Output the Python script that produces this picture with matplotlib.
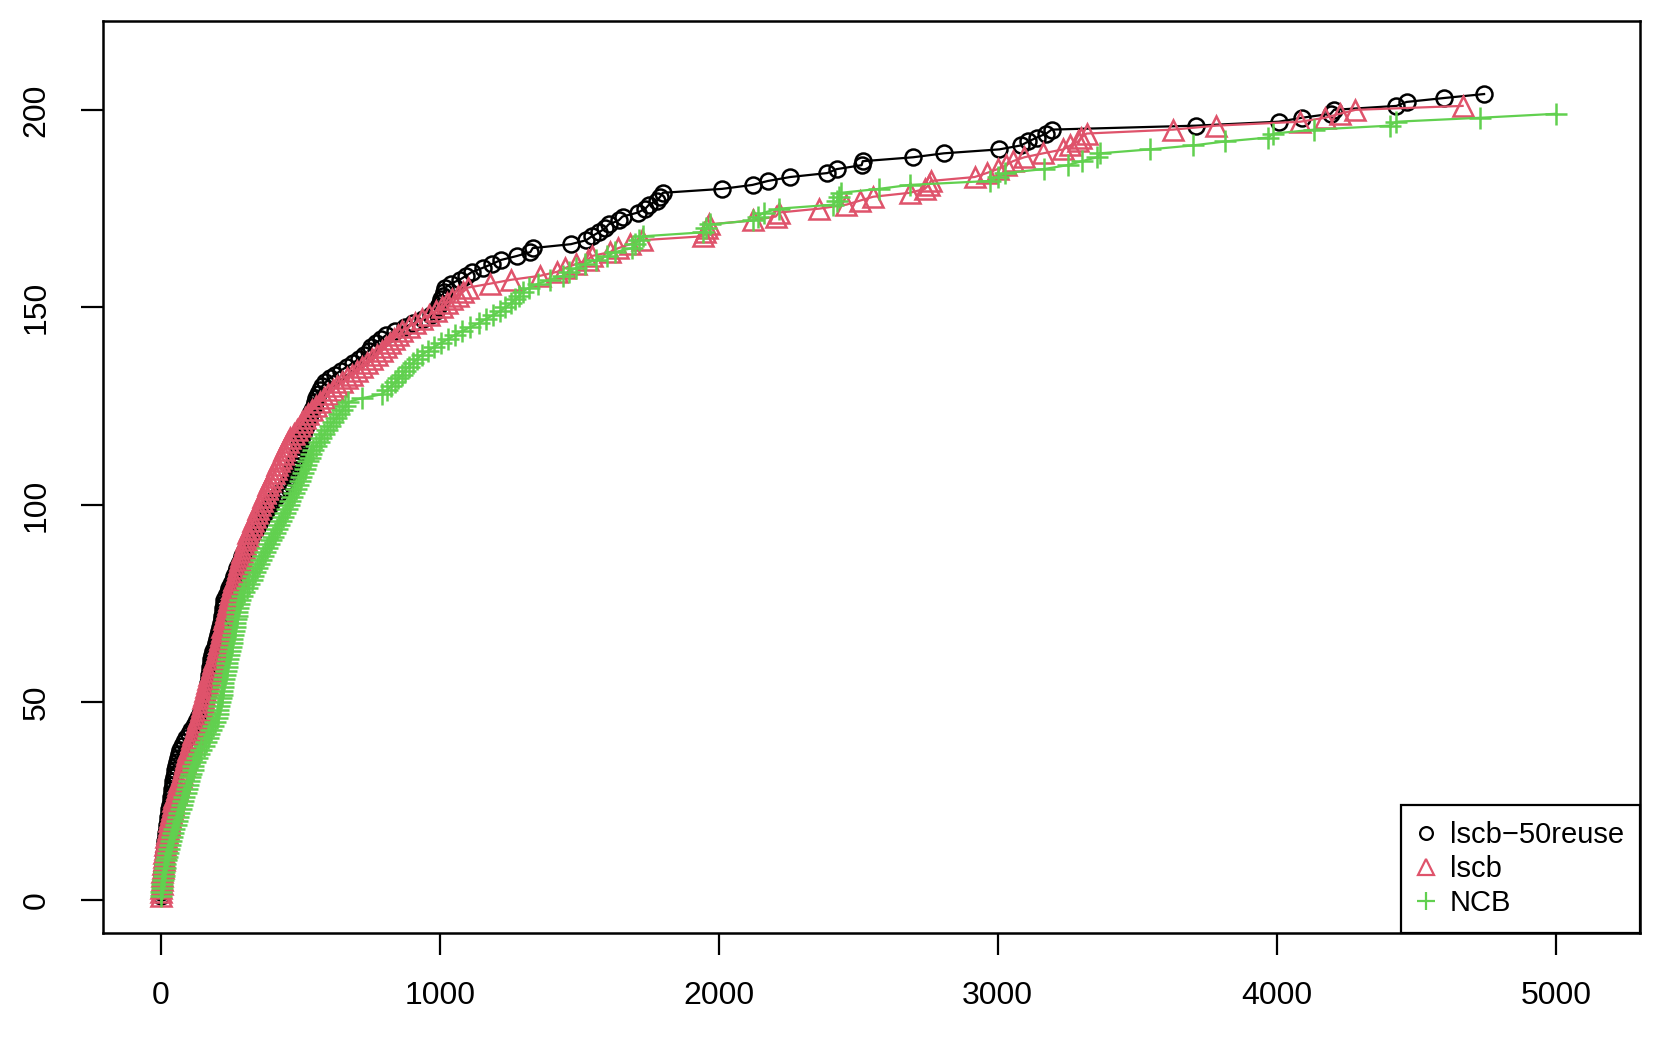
import numpy as np
import matplotlib
matplotlib.use("Agg")
import matplotlib.pyplot as plt
from matplotlib.lines import Line2D

# sorted completion times for each solver (one entry per solved instance)
reuse_times = [
    0, 1, 2, 3, 4, 5, 6, 8, 9, 10, 11, 12, 14, 15, 17, 18, 20, 22, 23, 25,
    27, 29, 31, 33, 35, 37, 39, 41, 43, 45, 47, 50, 52, 55, 58, 61, 64, 68, 75, 85,
    92, 100, 110, 120, 128, 134, 142, 149, 153, 158, 161, 164, 166, 168, 170, 172, 174, 176, 177, 179,
    181, 184, 188, 193, 198, 202, 206, 209, 212, 215, 218, 220, 222, 224, 226, 228, 234, 240, 246, 252,
    258, 264, 270, 275, 280, 286, 292, 298, 305, 312, 318, 325, 332, 340, 348, 356, 364, 372, 380, 390,
    400, 412, 425, 440, 450, 456, 462, 467, 472, 476, 480, 484, 488, 492, 496, 500, 504, 509, 514, 520,
    525, 530, 536, 542, 548, 553, 558, 563, 570, 578, 590, 605, 625, 645, 668, 690, 710, 728, 745, 755,
    770, 790, 808, 840, 875, 905, 940, 968, 985, 995, 1000, 1005, 1010, 1015, 1020, 1040, 1071, 1095, 1116, 1154,
    1188, 1219, 1276, 1325, 1333, 1470, 1525, 1545, 1570, 1593, 1605, 1641, 1655, 1710, 1737, 1750, 1778, 1790, 1799, 2012,
    2121, 2176, 2256, 2389, 2423, 2512, 2516, 2697, 2807, 3006, 3083, 3110, 3140, 3174, 3193, 3710, 4007, 4090, 4193, 4205,
    4429, 4465, 4600, 4743,
]
lscb_times = [
    0, 1, 2, 3, 4, 5, 6, 7, 9, 10, 11, 13, 14, 16, 18, 20, 22, 25, 28, 31,
    34, 37, 40, 43, 45, 49, 53, 58, 62, 66, 71, 75, 79, 82, 86, 90, 95, 99, 104, 108,
    113, 117, 122, 126, 131, 135, 139, 143, 147, 150, 153, 156, 159, 162, 165, 170, 174, 179, 183, 188,
    192, 197, 201, 204, 208, 211, 215, 218, 221, 225, 228, 231, 234, 238, 241, 244, 248, 252, 256, 260,
    264, 268, 272, 276, 280, 284, 288, 293, 297, 302, 306, 311, 314, 320, 326, 332, 338, 344, 350, 356,
    362, 368, 375, 381, 386, 393, 399, 405, 412, 418, 425, 431, 437, 443, 450, 455, 465, 476, 487, 498,
    508, 518, 529, 543, 557, 571, 586, 601, 617, 633, 649, 667, 685, 703, 720, 738, 756, 774, 792, 806,
    820, 835, 850, 864, 888, 911, 935, 960, 985, 1007, 1025, 1043, 1065, 1085, 1100, 1180, 1257, 1360, 1420, 1450,
    1490, 1530, 1545, 1610, 1640, 1682, 1724, 1943, 1950, 1958, 1964, 2121, 2204, 2215, 2361, 2457, 2505, 2553, 2684, 2739,
    2752, 2760, 2917, 2960, 2999, 3030, 3054, 3095, 3163, 3235, 3260, 3288, 3300, 3318, 3629, 3783, 4084, 4173, 4225, 4282,
    4666,
]
ncb_times = [
    0, 2, 4, 6, 8, 10, 12, 14, 17, 19, 22, 25, 28, 32, 36, 40, 45, 49, 54, 58,
    63, 67, 72, 76, 81, 85, 89, 93, 98, 102, 106, 110, 114, 117, 124, 131, 138, 146, 154, 162,
    168, 174, 180, 186, 193, 200, 204, 207, 210, 213, 216, 218, 220, 222, 224, 227, 230, 233, 236, 239,
    242, 245, 248, 251, 254, 257, 260, 263, 265, 267, 269, 272, 275, 278, 281, 284, 290, 300, 310, 318,
    326, 332, 338, 345, 352, 360, 367, 374, 381, 388, 395, 402, 409, 416, 423, 430, 437, 444, 451, 458,
    465, 472, 479, 485, 492, 498, 504, 510, 516, 522, 528, 534, 540, 546, 556, 566, 576, 586, 596, 606,
    617, 628, 640, 650, 660, 670, 720, 792, 810, 825, 840, 852, 864, 876, 888, 905, 920, 935, 959, 980,
    1005, 1031, 1055, 1080, 1110, 1140, 1165, 1190, 1216, 1235, 1257, 1270, 1285, 1298, 1320, 1353, 1394, 1440, 1463, 1490,
    1520, 1559, 1600, 1628, 1689, 1700, 1715, 1730, 1943, 1955, 1970, 2121, 2140, 2162, 2217, 2410, 2423, 2430, 2437, 2574,
    2684, 2972, 3000, 3027, 3164, 3250, 3301, 3356, 3367, 3546, 3700, 3815, 3969, 3988, 4135, 4404, 4429, 4730, 4999,
]

labels = ["lscb\u221250reuse", "lscb", "NCB"]
colors = ["black", "#DF536B", "#61D04F"]
markers = ["o", "^", "+"]
marker_sizes = [11.5, 15, 16]

plt.rcParams["font.family"] = ["Liberation Sans", "DejaVu Sans"]

fig = plt.figure(figsize=(16.61, 10.38), dpi=100)
ax = fig.add_axes([0.0620, 0.1012, 0.9254, 0.8786])

for times, col, mk, ms in zip([reuse_times, lscb_times, ncb_times], colors, markers, marker_sizes):
    solved = np.arange(1, len(times) + 1)
    ax.plot(times, solved, color=col, linewidth=1.6, marker=mk, markersize=ms,
            markerfacecolor="none", markeredgecolor=col, markeredgewidth=1.8)

ax.set_xlim(-207, 5302)
ax.set_ylim(-8.35, 222.5)
ax.set_xticks([0, 1000, 2000, 3000, 4000, 5000])
ax.set_yticks([0, 50, 100, 150, 200])
ax.tick_params(axis="both", direction="out", length=15.8, width=1.6, labelsize=23)
ax.tick_params(axis="x", pad=19)
ax.tick_params(axis="y", pad=21, labelrotation=90)
for lbl in ax.get_yticklabels():
    lbl.set_verticalalignment("center")
for sp in ax.spines.values():
    sp.set_linewidth(1.8)

handles = [Line2D([], [], linestyle="none", marker=mk, color=col, markerfacecolor="none",
                  markeredgewidth=1.6, markersize=ms * 0.8)
           for col, mk, ms in zip(colors, markers, marker_sizes)]
leg = ax.legend(handles, labels, loc="lower right", borderaxespad=0, fancybox=False,
                fontsize=21, handlelength=0.58, handletextpad=0.54, labelspacing=0.2,
                borderpad=0.55, framealpha=1)
leg.get_frame().set_edgecolor("black")
leg.get_frame().set_linewidth(1.6)

fig.savefig("out.png", dpi=100)
